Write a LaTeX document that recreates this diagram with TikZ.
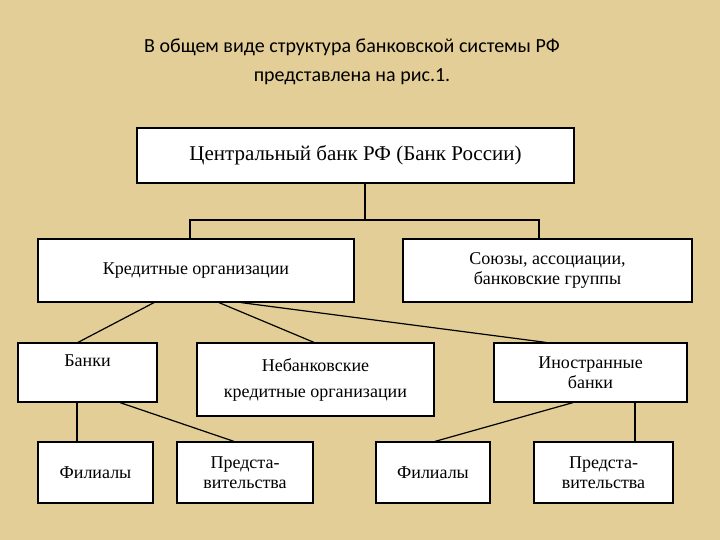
\documentclass[tikz,border=0pt]{standalone}
\usepackage{fontspec}
\setmainfont{Liberation Serif}
\newfontfamily\titlefont{Carlito}
\begin{document}
\begin{tikzpicture}[x=1pt,y=-1pt,
  bx/.style={draw=black,line width=1.2pt,fill=white,font=\fontsize{18}{20}\selectfont,align=center},
  ln/.style={line width=1.2pt}]
\fill[fill={rgb,255:red,226;green,206;blue,150}] (0,0) rectangle (720,540);
\useasboundingbox (0,0) rectangle (720,540);
\node[font=\titlefont\fontsize{20}{29}\selectfont,align=center] (title) at (352,62) {В общем виде структура банковской системы РФ\\представлена на рис.1.};
\newcommand\bxat[6]{\node[bx,minimum width=#4-#2,minimum height=#5-#3,inner sep=1pt] (#1) at ({(#2+#4)/2},{(#3+#5)/2}) {#6};}
\bxat{cb}{137}{128}{574}{183}{\fontsize{21}{23}\selectfont Центральный банк РФ (Банк России)}
\bxat{kred}{38}{239}{354}{302}{Кредитные организации}
\bxat{soy}{403}{239}{692}{302}{Союзы, ассоциации,\\банковские группы}
\bxat{bank}{18}{343}{157}{402}{Банки\\[4pt]}
\bxat{neb}{197}{343}{434}{416}{Небанковские\\[6pt]кредитные организации}
\bxat{ino}{494}{343}{687}{402}{Иностранные\\банки}
\bxat{fil1}{38}{442}{153}{503}{Филиалы}
\bxat{pr1}{177}{442}{313}{503}{Предста-\\вительства}
\bxat{fil2}{376}{442}{490}{503}{Филиалы}
\bxat{pr2}{534}{442}{673}{503}{Предста-\\вительства}
\coordinate (j) at (365,220);
\draw[ln] (cb.south -| j) -- (j);
\draw[ln] (kred.north -| 190,0) -- (190,220) -- (539,220) -- (soy.north -| 539,0);
\draw[ln] (kred.south -| 154,0) -- (bank.north -| 78,0);
\draw[ln] (kred.south -| 219,0) -- (neb.north -| 314,0);
\draw[ln] (kred.south -| 241,0) -- (ino.north -| 546,0);
\draw[ln] (bank.south -| 77,0) -- (fil1.north -| 77,0);
\draw[ln] (bank.south -| 120,0) -- (pr1.north -| 234,0);
\draw[ln] (ino.south -| 573,0) -- (fil2.north -| 435,0);
\draw[ln] (ino.south -| 635,0) -- (pr2.north -| 635,0);
\end{tikzpicture}
\end{document}
